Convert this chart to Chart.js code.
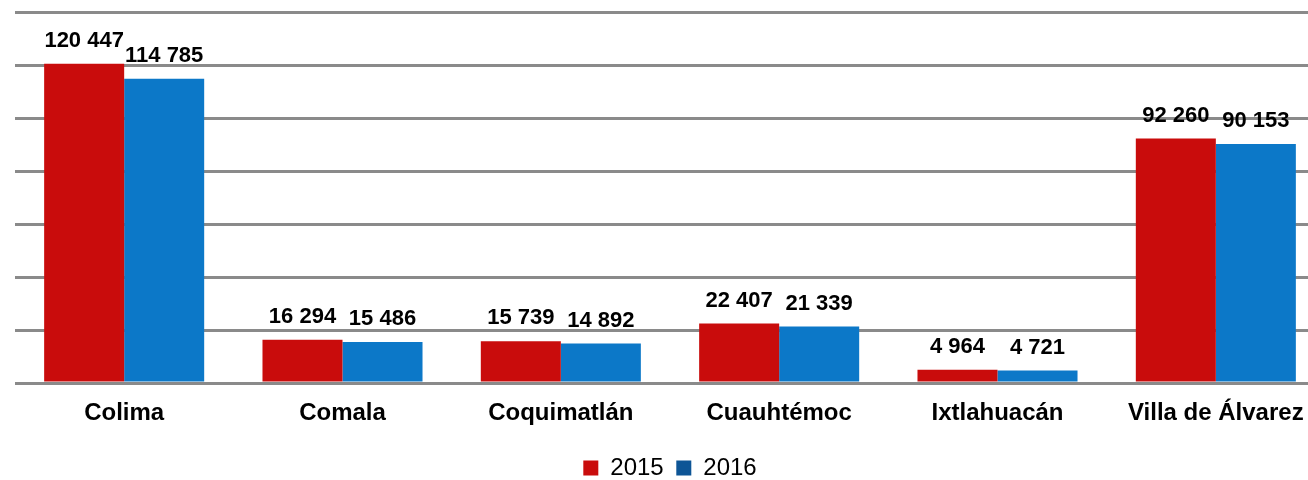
<!DOCTYPE html>
<html>
<head>
<meta charset="utf-8">
<script src="https://cdn.jsdelivr.net/npm/chart.js@4.4.1/dist/chart.umd.min.js"></script>
<style>
  html, body { margin: 0; padding: 0; background: #ffffff; overflow: hidden; }
  #wrap { width: 1325px; height: 480px; }
</style>
</head>
<body>
<div id="wrap"><canvas id="c" width="1325" height="480"></canvas></div>
<script>
const categories = ['Colima', 'Comala', 'Coquimatlán', 'Cuauhtémoc', 'Ixtlahuacán', 'Villa de Álvarez'];
const seriesNames = ['2015', '2016'];
const values2015 = [120447, 16294, 15739, 22407, 4964, 92260];
const values2016 = [114785, 15486, 14892, 21339, 4721, 90153];
const yMin = 0;
const yMax = 140000;
const yStep = 20000;

const RED = '#C90C0C';
const BLUE = '#0C78C8';
const BLUE_LEGEND = '#0D5596';
const FONT = '"Liberation Sans", Arial, Helvetica, sans-serif';

function fmt(n) {
  return String(n).replace(/\B(?=(\d{3})+(?!\d))/g, ' ');
}

const valueLabels = {
  id: 'valueLabels',
  afterDatasetsDraw(chart) {
    const ctx = chart.ctx;
    ctx.save();
    ctx.font = 'bold 22px ' + FONT;
    ctx.fillStyle = '#000000';
    ctx.textAlign = 'center';
    ctx.textBaseline = 'middle';
    chart.data.datasets.forEach((ds, di) => {
      const meta = chart.getDatasetMeta(di);
      meta.data.forEach((el, i) => {
        ctx.fillText(fmt(ds.data[i]), el.x, el.y - 23);
      });
    });
    ctx.restore();
  }
};

new Chart(document.getElementById('c'), {
  type: 'bar',
  data: {
    labels: categories,
    datasets: [
      { label: seriesNames[0], data: values2015, backgroundColor: RED, borderWidth: 0 },
      { label: seriesNames[1], data: values2016, backgroundColor: BLUE, borderWidth: 0 }
    ]
  },
  options: {
    responsive: false,
    animation: false,
    devicePixelRatio: 1,
    layout: { padding: { top: 12, left: 15, right: 0, bottom: -10 } },
    datasets: { bar: { categoryPercentage: 0.733, barPercentage: 1.0 } },
    scales: {
      x: {
        grid: { display: false, drawTicks: false },
        border: { display: false },
        ticks: {
          color: '#000000',
          padding: 15.6,
          font: { family: FONT, size: 24, weight: 'bold' },
          maxRotation: 0,
          autoSkip: false
        },
        afterFit(scale) { scale.height = 60.4; }
      },
      y: {
        min: yMin,
        max: yMax,
        ticks: { stepSize: yStep, display: false },
        grid: { color: '#8A8A8A', lineWidth: 3, drawTicks: false },
        border: { display: false }
      }
    },
    plugins: {
      tooltip: { enabled: false },
      legend: {
        position: 'bottom',
        labels: {
          color: '#000000',
          boxWidth: 15,
          boxHeight: 15,
          padding: 12.6,
          font: { family: FONT, size: 24 },
          generateLabels(chart) {
            const items = Chart.defaults.plugins.legend.labels.generateLabels(chart);
            items.forEach((it, i) => {
              it.lineWidth = 0;
              it.strokeStyle = 'rgba(0,0,0,0)';
              it.fillStyle = i === 1 ? BLUE_LEGEND : RED;
            });
            return items;
          }
        }
      }
    }
  },
  plugins: [valueLabels]
});
</script>
</body>
</html>
